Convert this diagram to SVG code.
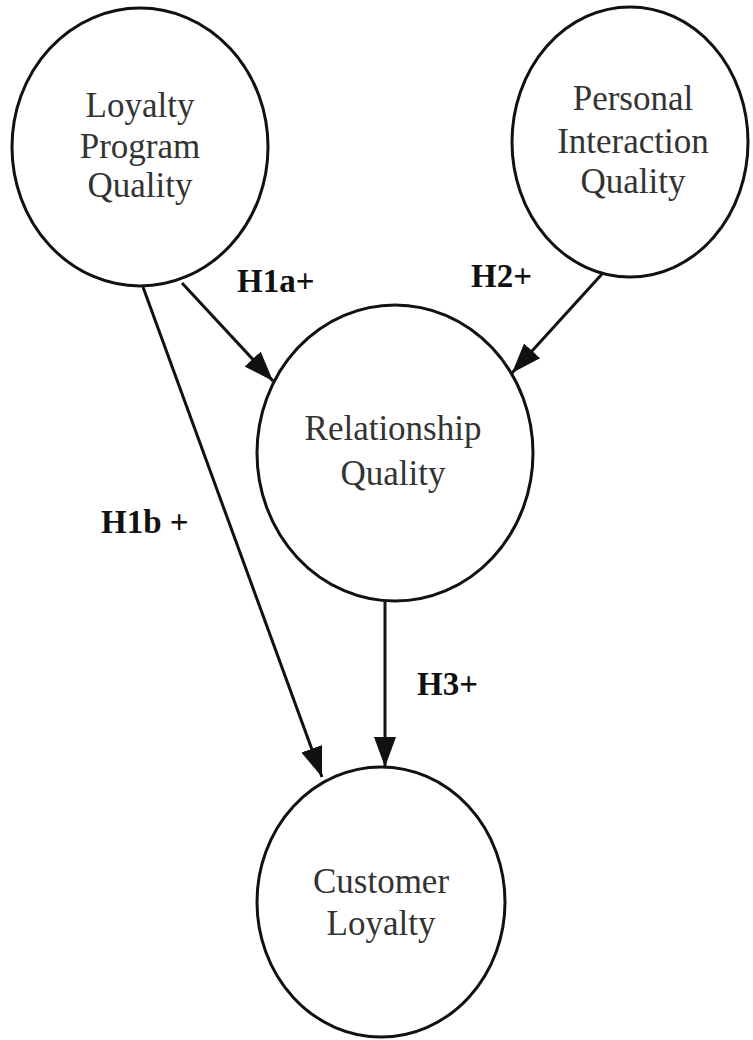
<svg xmlns="http://www.w3.org/2000/svg" width="753" height="1040" viewBox="0 0 753 1040">
<style>
.node{fill:#fff;stroke:#111;stroke-width:3}
.t{font-family:"Liberation Serif","DejaVu Serif",serif;font-size:35px;fill:#333;text-anchor:middle}
.lbl{font-family:"Liberation Serif","DejaVu Serif",serif;font-size:33px;font-weight:bold;fill:#111}
.edge{stroke:#111;stroke-width:3;fill:none;marker-end:url(#arr)}
</style>
<defs>
<marker id="arr" markerUnits="userSpaceOnUse" markerWidth="32" markerHeight="24" refX="30" refY="11" orient="auto">
<path d="M0,0 L30,11 L0,22 z" fill="#111"/>
</marker>
</defs>
<rect width="753" height="1040" fill="#fff"/>
<g id="connectors">
<line class="edge" x1="182" y1="283" x2="273" y2="381"/>
<line class="edge" x1="143" y1="287" x2="322" y2="777"/>
<line class="edge" x1="602" y1="274" x2="512" y2="373"/>
<line class="edge" x1="385" y1="602" x2="385" y2="767"/>
</g>
<g id="n1">
<ellipse class="node" cx="140" cy="147" rx="128" ry="139"/>
<text class="t" x="140" y="117">Loyalty</text>
<text class="t" x="140" y="158">Program</text>
<text class="t" x="140" y="197">Quality</text>
</g>
<g id="n2">
<ellipse class="node" cx="630" cy="142" rx="118" ry="135"/>
<text class="t" x="633" y="110">Personal</text>
<text class="t" x="633" y="153">Interaction</text>
<text class="t" x="633" y="193">Quality</text>
</g>
<g id="n3">
<ellipse class="node" cx="395" cy="453" rx="138" ry="148"/>
<text class="t" x="393" y="440">Relationship</text>
<text class="t" x="393" y="485">Quality</text>
</g>
<g id="n4">
<ellipse class="node" cx="381" cy="902" rx="124" ry="135"/>
<text class="t" x="381" y="893">Customer</text>
<text class="t" x="381" y="935">Loyalty</text>
</g>
<g id="labels">
<text class="lbl" x="237" y="292">H1a+</text>
<text class="lbl" x="471" y="287">H2+</text>
<text class="lbl" x="101" y="533">H1b +</text>
<text class="lbl" x="417" y="695">H3+</text>
</g>
</svg>
